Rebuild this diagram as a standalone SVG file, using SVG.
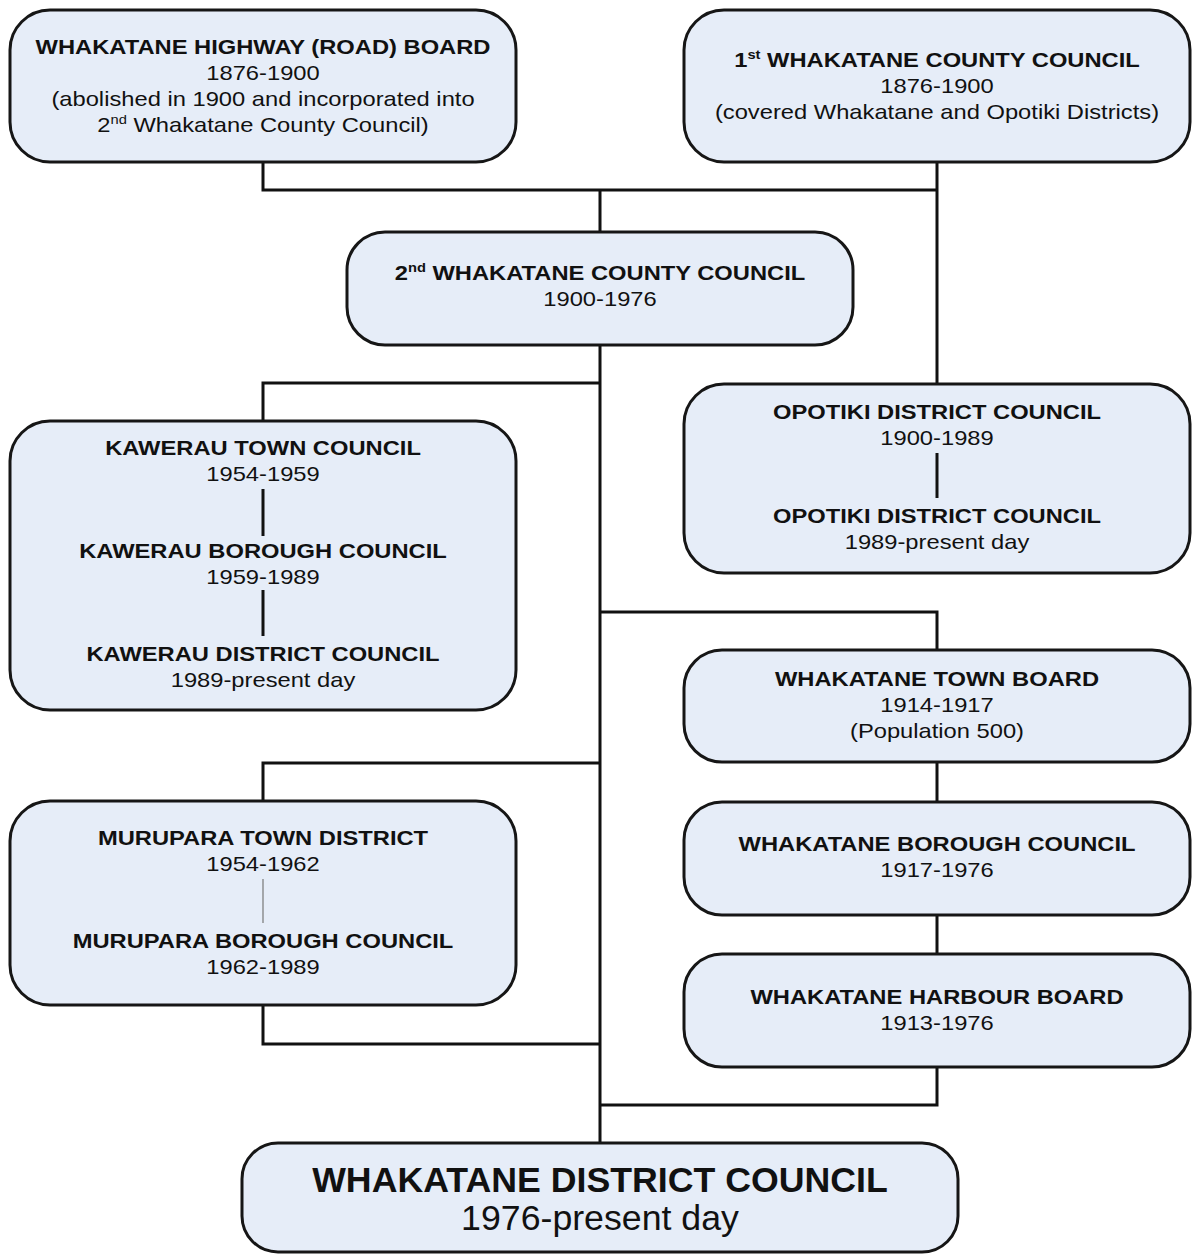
<svg xmlns="http://www.w3.org/2000/svg" width="1194" height="1254" viewBox="0 0 1194 1254">
<style>
.box{fill:#e6edf8;stroke:#161616;stroke-width:3}
.ln{fill:none;stroke:#111;stroke-width:3}
.thin{fill:none;stroke:#777;stroke-width:1.2}
text{font-family:"Liberation Sans",Arial,sans-serif;fill:#111;text-anchor:middle;font-size:21px}
.b{font-weight:bold}
.big{font-size:35px}
</style>
<rect width="1194" height="1254" fill="#fff"/>
<g id="connectors">
<path class="ln" d="M263 162V190H937M937 162V384M600 190V232"/>
<path class="ln" d="M600 345V1143M263 421V383H600"/>
<path class="ln" d="M600 612H937V650M937 762V802M937 915V954M937 1067V1105H600"/>
<path class="ln" d="M263 801V763H600M263 1005V1044H600"/>
</g>
<g id="highway-board">
<rect class="box" x="10" y="10" width="506" height="152" rx="40"/>
<text class="b" transform="translate(263,54) scale(1.13,1)">WHAKATANE HIGHWAY (ROAD) BOARD</text>
<text transform="translate(263,80) scale(1.13,1)">1876-1900</text>
<text transform="translate(263,106) scale(1.13,1)">(abolished in 1900 and incorporated into</text>
<text transform="translate(263,132) scale(1.13,1)">2<tspan font-size="13" dy="-8">nd</tspan><tspan dy="8"> Whakatane County Council)</tspan></text>
</g>
<g id="first-county">
<rect class="box" x="684" y="10" width="506" height="152" rx="40"/>
<text class="b" transform="translate(937,67) scale(1.13,1)">1<tspan font-size="13" dy="-8">st</tspan><tspan dy="8"> WHAKATANE COUNTY COUNCIL</tspan></text>
<text transform="translate(937,93) scale(1.13,1)">1876-1900</text>
<text transform="translate(937,119) scale(1.13,1)">(covered Whakatane and Opotiki Districts)</text>
</g>
<g id="second-county">
<rect class="box" x="347" y="232" width="506" height="113" rx="38"/>
<text class="b" transform="translate(600,280) scale(1.13,1)">2<tspan font-size="13" dy="-8">nd</tspan><tspan dy="8"> WHAKATANE COUNTY COUNCIL</tspan></text>
<text transform="translate(600,306) scale(1.13,1)">1900-1976</text>
</g>
<g id="kawerau">
<rect class="box" x="10" y="421" width="506" height="289" rx="40"/>
<text class="b" transform="translate(263,455) scale(1.13,1)">KAWERAU TOWN COUNCIL</text>
<text transform="translate(263,481) scale(1.13,1)">1954-1959</text>
<path class="ln" d="M263 489V536M263 590V636"/>
<text class="b" transform="translate(263,558) scale(1.13,1)">KAWERAU BOROUGH COUNCIL</text>
<text transform="translate(263,584) scale(1.13,1)">1959-1989</text>
<text class="b" transform="translate(263,661) scale(1.13,1)">KAWERAU DISTRICT COUNCIL</text>
<text transform="translate(263,687) scale(1.13,1)">1989-present day</text>
</g>
<g id="opotiki">
<rect class="box" x="684" y="384" width="506" height="189" rx="40"/>
<text class="b" transform="translate(937,419) scale(1.13,1)">OPOTIKI DISTRICT COUNCIL</text>
<text transform="translate(937,445) scale(1.13,1)">1900-1989</text>
<path class="ln" d="M937 453V498"/>
<text class="b" transform="translate(937,523) scale(1.13,1)">OPOTIKI DISTRICT COUNCIL</text>
<text transform="translate(937,549) scale(1.13,1)">1989-present day</text>
</g>
<g id="town-board">
<rect class="box" x="684" y="650" width="506" height="112" rx="38"/>
<text class="b" transform="translate(937,686) scale(1.13,1)">WHAKATANE TOWN BOARD</text>
<text transform="translate(937,712) scale(1.13,1)">1914-1917</text>
<text transform="translate(937,738) scale(1.13,1)">(Population 500)</text>
</g>
<g id="borough">
<rect class="box" x="684" y="802" width="506" height="113" rx="38"/>
<text class="b" transform="translate(937,851) scale(1.13,1)">WHAKATANE BOROUGH COUNCIL</text>
<text transform="translate(937,877) scale(1.13,1)">1917-1976</text>
</g>
<g id="harbour">
<rect class="box" x="684" y="954" width="506" height="113" rx="38"/>
<text class="b" transform="translate(937,1004) scale(1.13,1)">WHAKATANE HARBOUR BOARD</text>
<text transform="translate(937,1030) scale(1.13,1)">1913-1976</text>
</g>
<g id="murupara">
<rect class="box" x="10" y="801" width="506" height="204" rx="40"/>
<text class="b" transform="translate(263,845) scale(1.13,1)">MURUPARA TOWN DISTRICT</text>
<text transform="translate(263,871) scale(1.13,1)">1954-1962</text>
<path class="thin" d="M263 879V923"/>
<text class="b" transform="translate(263,948) scale(1.13,1)">MURUPARA BOROUGH COUNCIL</text>
<text transform="translate(263,974) scale(1.13,1)">1962-1989</text>
</g>
<g id="district-council">
<rect class="box" x="242" y="1143" width="716" height="109" rx="36"/>
<text class="b big" transform="translate(600,1192) scale(1.02,1)">WHAKATANE DISTRICT COUNCIL</text>
<text class="big" transform="translate(600,1230) scale(1.02,1)">1976-present day</text>
</g>
</svg>
